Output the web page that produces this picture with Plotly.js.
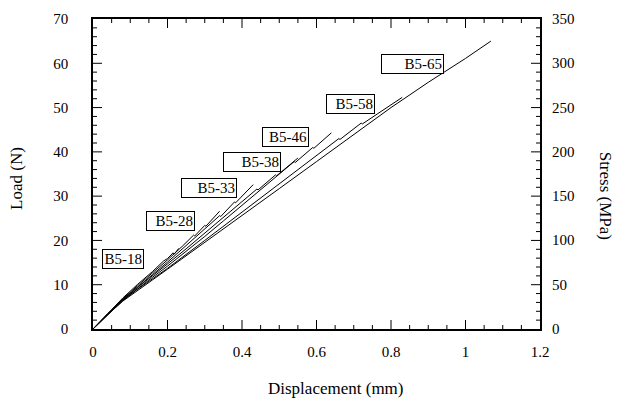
<!DOCTYPE html>
<html>
<head>
<meta charset="utf-8">
<script src="https://cdn.plot.ly/plotly-3.0.1.min.js"></script>
<style>html,body{margin:0;padding:0;background:#fff;}#chart{width:618px;height:405px;}</style>
</head>
<body>
<div id="chart"></div>
<script>
// Specimen names
const specimens = ["B5-18", "B5-28", "B5-33", "B5-38", "B5-46", "B5-58", "B5-65"];

// Displacement (mm) and Load (N)
const dispB518 = [0, 0.04, 0.08, 0.12, 0.16, 0.19, 0.20, 0.215, 0.218, 0.23];
const loadB518 = [0, 3.6, 7.0, 10.1, 13.0, 15.4, 15.9, 17.2, 16.9, 18.2];

const dispB528 = [0, 0.04, 0.08, 0.12, 0.16, 0.20, 0.24, 0.27, 0.273, 0.30, 0.303, 0.34];
const loadB528 = [0, 3.5, 6.8, 9.8, 12.6, 15.6, 18.7, 21.2, 21.0, 23.4, 23.2, 26.6];

const dispB533 = [0, 0.04, 0.08, 0.12, 0.16, 0.20, 0.25, 0.30, 0.34, 0.343, 0.38, 0.383, 0.43];
const loadB533 = [0, 3.5, 6.7, 9.6, 12.3, 15.1, 18.8, 22.6, 25.6, 25.4, 28.7, 28.5, 32.6];

const dispB538 = [0, 0.04, 0.08, 0.12, 0.16, 0.20, 0.25, 0.30, 0.35, 0.40, 0.44, 0.443, 0.49, 0.493, 0.55];
const loadB538 = [0, 3.4, 6.6, 9.4, 12.0, 14.7, 18.1, 21.6, 25.1, 28.7, 31.6, 31.4, 34.8, 34.6, 38.6];

const dispB546 = [0, 0.04, 0.08, 0.12, 0.16, 0.20, 0.25, 0.30, 0.35, 0.40, 0.45, 0.50, 0.54, 0.543, 0.59, 0.593, 0.64];
const loadB546 = [0, 3.4, 6.5, 9.2, 11.7, 14.2, 17.5, 20.9, 24.4, 27.9, 31.4, 34.9, 37.8, 37.6, 41.0, 40.8, 44.3];

const dispB558 = [0, 0.04, 0.08, 0.12, 0.16, 0.20, 0.30, 0.40, 0.50, 0.60, 0.66, 0.663, 0.72, 0.723, 0.83];
const loadB558 = [0, 3.3, 6.4, 9.0, 11.3, 13.7, 20.0, 26.4, 32.8, 39.1, 43.0, 42.8, 46.5, 46.3, 52.3];

const dispB565 = [0, 0.04, 0.08, 0.12, 0.16, 0.20, 0.30, 0.40, 0.50, 0.60, 0.70, 0.80, 0.90, 1.00, 1.068];
const loadB565 = [0, 3.3, 6.3, 8.8, 11.1, 13.5, 19.5, 25.6, 31.7, 37.8, 43.9, 50.0, 55.7, 61.1, 65.0];

const dispSets = [dispB518, dispB528, dispB533, dispB538, dispB546, dispB558, dispB565];
const loadSets = [loadB518, loadB528, loadB533, loadB538, loadB546, loadB558, loadB565];

// Right-hand stress scale: tick labels (MPa) and conversion (MPa per N)
const stressTicks = [0, 50, 100, 150, 200, 250, 300, 350];
const stressPerLoad = 5;

// Label box anchor points (displacement, load) and widths
const labelX = [0.08, 0.209, 0.311, 0.427, 0.518, 0.69, 0.857];
const labelY = [15.9, 24.5, 31.8, 37.7, 43.4, 50.9, 59.8];
const labelW = [38, 45, 52, 54, 43, 45, 59];

const serif = "Liberation Serif, Times New Roman, serif";
const black = "#000";

// figure / axis settings
const W = 618, H = 405, M = {l: 93, r: 78, t: 19, b: 76};
const xMax = 1.2, xMajor = 0.2, xMinor = 0.05;
const yMax = 70, yMajor = 10, yMinor = 2;
const majorLen = 9, minorLen = 4;   // tick lengths in pixels
const xPerPx = xMax / (W - M.l - M.r), yPerPx = yMax / (H - M.t - M.b);

const traces = specimens.map((name, i) => ({
  x: dispSets[i], y: loadSets[i], type: "scatter", mode: "lines", name: name,
  line: {color: black, width: 1}, showlegend: false, hoverinfo: "skip"
}));

// inward frame ticks, built from the axis step sizes
const tx = [], ty = [];
const nx = Math.round(xMax / xMinor), perX = Math.round(xMajor / xMinor);
for (let i = 1; i < nx; i++) {
  const v = i * xMinor, len = ((i % perX === 0) ? majorLen : minorLen) * yPerPx;
  tx.push(v, v, null, v, v, null);
  ty.push(0, len, null, yMax, yMax - len, null);
}
const ny = Math.round(yMax / yMinor), perY = Math.round(yMajor / yMinor);
for (let i = 1; i < ny; i++) {
  const v = i * yMinor, len = ((i % perY === 0) ? majorLen : minorLen) * xPerPx;
  tx.push(0, len, null, xMax, xMax - len, null);
  ty.push(v, v, null, v, v, null);
}
traces.push({x: tx, y: ty, type: "scatter", mode: "lines", connectgaps: false,
  line: {color: black, width: 1}, showlegend: false, hoverinfo: "skip"});

const annotations = specimens.map((name, i) => ({
  x: labelX[i], y: labelY[i], xref: "x", yref: "y", text: name, showarrow: false,
  xanchor: "center", yanchor: "middle", align: "right", width: labelW[i],
  bgcolor: "#fff", bordercolor: black, borderwidth: 1, borderpad: 1,
  font: {family: serif, size: 15, color: black}
}));
// stress tick labels on the right edge, placed through the load scale
stressTicks.forEach(s => annotations.push({
  xref: "paper", yref: "y", x: 1, y: s / stressPerLoad, xanchor: "left", yanchor: "middle",
  xshift: 10, text: String(s), showarrow: false, font: {family: serif, size: 15, color: black}
}));
annotations.push(
  {xref: "paper", yref: "paper", x: -0.171, y: 0.486, text: "Load (N)", textangle: -90, showarrow: false,
   xanchor: "center", yanchor: "middle", font: {family: serif, size: 17, color: black}},
  {xref: "paper", yref: "paper", x: 1.147, y: 0.431, text: "Stress (MPa)", textangle: 90, showarrow: false,
   xanchor: "center", yanchor: "middle", font: {family: serif, size: 17, color: black}},
  {xref: "paper", yref: "paper", x: 0.544, y: -0.192, text: "Displacement (mm)", showarrow: false,
   xanchor: "center", yanchor: "middle", font: {family: serif, size: 17, color: black}}
);

const layout = {
  width: W, height: H,
  margin: M,
  paper_bgcolor: "#fff", plot_bgcolor: "#fff",
  font: {family: serif, size: 15, color: black},
  xaxis: {
    range: [0, xMax], dtick: xMajor, ticks: "", showline: true, linecolor: black, linewidth: 1.5,
    mirror: true, showgrid: false, zeroline: false, ticklabelstandoff: 8,
    tickfont: {family: serif, size: 15, color: black}
  },
  yaxis: {
    range: [0, yMax], dtick: yMajor, ticks: "", showline: true, linecolor: black, linewidth: 1.5,
    mirror: true, showgrid: false, zeroline: false, ticklabelstandoff: 20,
    tickfont: {family: serif, size: 15, color: black}
  },
  annotations: annotations,
  showlegend: false
};

Plotly.newPlot("chart", traces, layout, {displayModeBar: false});
</script>
</body>
</html>
